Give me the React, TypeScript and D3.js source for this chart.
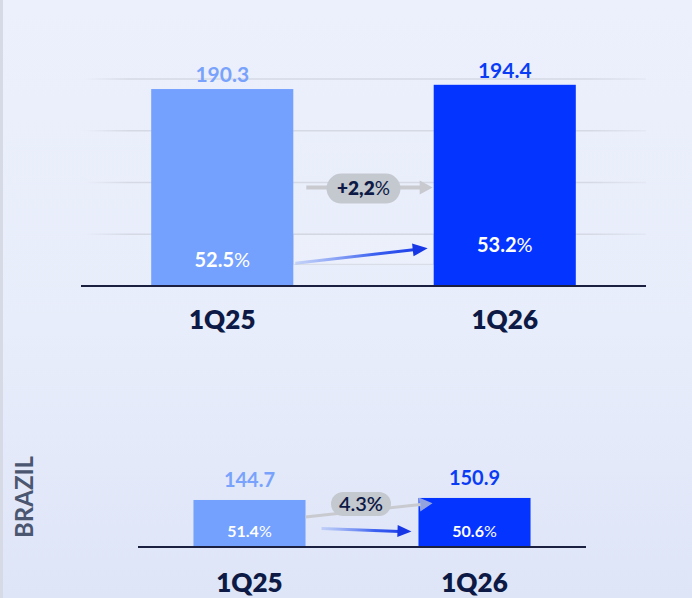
import React from "react";
import * as d3 from "d3";

const categories = ["1Q25", "1Q26"];
const totalValues = [190.3, 194.4];
const totalShares = [52.5, 53.2];
const totalGrowth = "+2,2%";
const brazilLabel = "BRAZIL";
const brazilValues = [144.7, 150.9];
const brazilShares = [51.4, 50.6];
const brazilGrowth = "4.3%";
const gridTicks = [50, 100, 150, 200];

const barColors = ["#74a0fe", "#0434ff"];
const valueColors = ["#78a2fc", "#0a3cf6"];
const navy = "#0d1a45";
const FONT = "Lato, 'Open Sans', sans-serif";

const W = 692;
const H = 598;

function arrowHead(x1: number, y1: number, x2: number, y2: number, L: number, w: number) {
  const a = Math.atan2(y2 - y1, x2 - x1);
  const bx = x2 - L * Math.cos(a);
  const by = y2 - L * Math.sin(a);
  const px = -Math.sin(a) * w;
  const py = Math.cos(a) * w;
  return `M${x2},${y2}L${bx + px},${by + py}L${bx - px},${by - py}Z`;
}

function Pct({ x, y, text, size, fill, weight }: any) {
  const num = text.replace("%", "");
  return (
    <text x={x} y={y} textAnchor="middle" fontFamily={FONT} fontSize={size} fill={fill} fontWeight={weight}>
      {num}
      <tspan fontWeight={400}>%</tspan>
    </text>
  );
}

export default function App() {
  const xTop = d3.scaleBand<string>().domain(categories).range([81, 646]).paddingInner(0.497).paddingOuter(0.2485);
  const yTop = d3.scaleLinear().domain([0, 200]).range([286, 79]);
  const shareTop = d3.scaleLinear().domain([52, 54]).range([278, 235]);
  const xBot = d3.scaleBand<string>().domain(categories).range([138, 586]).paddingInner(0.502).paddingOuter(0.2465);
  const yBot = d3.scaleLinear().domain([0, 200]).range([547, 482]);
  const shareBot = d3.scaleLinear().domain([50, 52]).range([534, 526]);

  const bwT = xTop.bandwidth();
  const bwB = xBot.bandwidth();
  const t0 = xTop(categories[0])! + bwT;
  const t1 = xTop(categories[1])!;
  const b0 = xBot(categories[0])! + bwB;
  const b1 = xBot(categories[1])!;

  const gY = yTop(totalValues[0] / 2);
  const blueT = { x1: t0 + 2, y1: shareTop(totalShares[0]) - 4, x2: t1 - 6, y2: shareTop(totalShares[1]) - 4 };
  const grayB = { x1: b0, y1: yBot(92), x2: b1 + 14, y2: yBot(135) };
  const blueB = { x1: b0 + 16, y1: shareBot(brazilShares[0]), x2: b1 - 7, y2: shareBot(brazilShares[1]) };

  return (
    <svg width={W} height={H} style={{ position: "absolute", left: 0, top: 0 }}>
      <defs>
        <linearGradient id="bg" x1="0" y1="0" x2="0" y2="1">
          <stop offset="0" stopColor="#ecf0fc" />
          <stop offset="0.55" stopColor="#e8edfb" />
          <stop offset="1" stopColor="#dee5f7" />
        </linearGradient>
        <linearGradient id="grid" gradientUnits="userSpaceOnUse" x1="84" y1="0" x2="646" y2="0">
          <stop offset="0" stopColor="#d4d9e4" stopOpacity="0" />
          <stop offset="0.08" stopColor="#d4d9e4" stopOpacity="1" />
          <stop offset="0.9" stopColor="#d4d9e4" stopOpacity="1" />
          <stop offset="1" stopColor="#d4d9e4" stopOpacity="0.3" />
        </linearGradient>
        <linearGradient id="blueT" gradientUnits="userSpaceOnUse" x1={blueT.x1} y1="0" x2={blueT.x2} y2="0">
          <stop offset="0" stopColor="#9db6f7" stopOpacity="0.5" />
          <stop offset="0.6" stopColor="#3a5ff0" />
          <stop offset="1" stopColor="#1737e6" />
        </linearGradient>
        <linearGradient id="blueB" gradientUnits="userSpaceOnUse" x1={blueB.x1} y1="0" x2={blueB.x2} y2="0">
          <stop offset="0" stopColor="#9db6f7" stopOpacity="0.5" />
          <stop offset="0.6" stopColor="#3a5ff0" />
          <stop offset="1" stopColor="#1737e6" />
        </linearGradient>
      </defs>
      <rect x={0} y={0} width={W} height={H} fill="url(#bg)" />
      <rect x={0} y={0} width={3} height={H} fill="#d6dae4" />

      {gridTicks.map((t) => (
        <line key={t} x1={84} x2={646} y1={yTop(t)} y2={yTop(t)} stroke="url(#grid)" strokeWidth={1.5} />
      ))}
      <rect x={t0} y={yTop(50)} width={t1 - t0} height={shareTop(totalShares[0]) - yTop(50) - 3} fill="#ffffff" fillOpacity={0.15} stroke="#d0d4de" strokeWidth={0.8} />

      {categories.map((c, i) => (
        <rect key={c} x={xTop(c)} y={yTop(totalValues[i])} width={bwT} height={yTop(0) - yTop(totalValues[i])} fill={barColors[i]} />
      ))}
      <line x1={81} x2={646} y1={yTop(0)} y2={yTop(0)} stroke="#1b2040" strokeWidth={2} />
      {categories.map((c, i) => (
        <text key={c} x={xTop(c)! + bwT / 2} y={yTop(totalValues[i]) - 7} textAnchor="middle" fontFamily={FONT} fontWeight={700} fontSize={21} fill={valueColors[i]}>
          {totalValues[i].toFixed(1)}
        </text>
      ))}
      {categories.map((c, i) => (
        <Pct key={c} x={xTop(c)! + bwT / 2} y={shareTop(totalShares[i])} text={`${totalShares[i].toFixed(1)}%`} size={20} fill="#ffffff" weight={700} />
      ))}
      {categories.map((c) => (
        <text key={c} x={xTop(c)! + bwT / 2} y={yTop(0) + 43} textAnchor="middle" fontFamily={FONT} fontWeight={800} fontSize={26} fill={navy}>
          {c}
        </text>
      ))}

      <line x1={t0 + 13} y1={gY} x2={t1 - 12} y2={gY} stroke="#c8cacf" strokeWidth={4} />
      <path d={arrowHead(t0 + 13, gY, t1 - 1, gY, 13, 7)} fill="#c8cacf" />
      <rect x={(t0 + t1) / 2 - 37} y={gY - 14} width={74} height={30} rx={15} fill="#c4c8cf" />
      <Pct x={(t0 + t1) / 2} y={gY + 7.5} text={totalGrowth} size={19} fill={navy} weight={800} />

      <line x1={blueT.x1} y1={blueT.y1} x2={blueT.x2 - 12} y2={blueT.y2 + 1.3} stroke="url(#blueT)" strokeWidth={3} />
      <path d={arrowHead(blueT.x1, blueT.y1, blueT.x2, blueT.y2, 15, 6.5)} fill="#1737e6" />

      <text transform={`translate(33,497) rotate(-90)`} textAnchor="middle" fontFamily={FONT} fontWeight={700} fontSize={24} fill="#4b5670">
        {brazilLabel}
      </text>
      {categories.map((c, i) => (
        <rect key={c} x={xBot(c)} y={yBot(brazilValues[i])} width={bwB} height={yBot(0) - yBot(brazilValues[i])} fill={barColors[i]} />
      ))}
      <line x1={138} x2={586} y1={yBot(0)} y2={yBot(0)} stroke="#1b2040" strokeWidth={2} />
      {categories.map((c, i) => (
        <text key={c} x={xBot(c)! + bwB / 2} y={yBot(brazilValues[i]) - 13} textAnchor="middle" fontFamily={FONT} fontWeight={700} fontSize={20} fill={valueColors[i]}>
          {brazilValues[i].toFixed(1)}
        </text>
      ))}
      {categories.map((c, i) => (
        <Pct key={c} x={xBot(c)! + bwB / 2} y={yBot(0) - 10} text={`${brazilShares[i].toFixed(1)}%`} size={16} fill="#ffffff" weight={700} />
      ))}
      {categories.map((c) => (
        <text key={c} x={xBot(c)! + bwB / 2} y={yBot(0) + 45} textAnchor="middle" fontFamily={FONT} fontWeight={800} fontSize={26} fill={navy}>
          {c}
        </text>
      ))}

      <line x1={grayB.x1} y1={grayB.y1} x2={grayB.x2 - 12} y2={grayB.y2 + 1.3} stroke="#c8cacf" strokeWidth={3} />
      <path d={arrowHead(grayB.x1, grayB.y1, grayB.x2, grayB.y2, 13, 7)} fill="#c3c8d6" fillOpacity={0.75} />
      <rect x={331} y={yBot(0) - 55} width={60} height={24} rx={12} fill="#c4c8cf" />
      <text x={361} y={yBot(0) - 36} textAnchor="middle" fontFamily={FONT} fontWeight={600} fontSize={20} fill={navy}>
        {brazilGrowth}
      </text>

      <line x1={blueB.x1} y1={blueB.y1} x2={blueB.x2 - 12} y2={blueB.y2} stroke="url(#blueB)" strokeWidth={3} />
      <path d={arrowHead(blueB.x1, blueB.y1, blueB.x2, blueB.y2, 14, 6)} fill="#1737e6" />
    </svg>
  );
}
